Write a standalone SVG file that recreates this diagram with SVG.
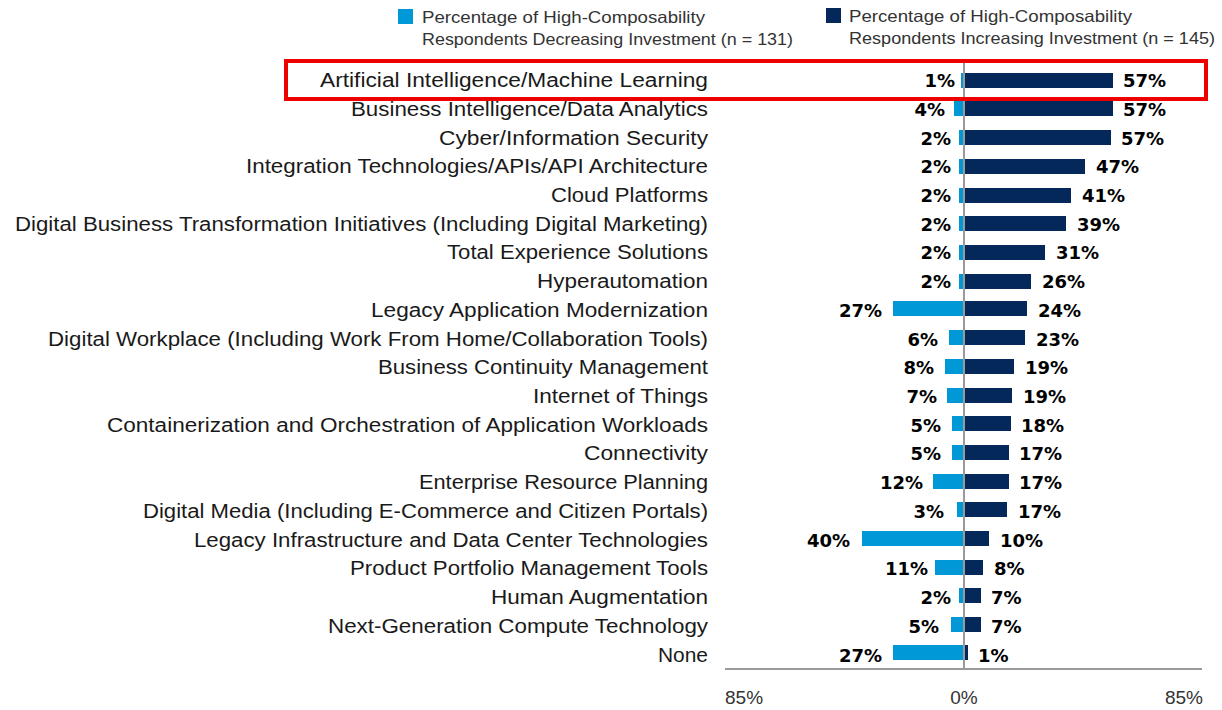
<svg xmlns="http://www.w3.org/2000/svg" width="1222" height="710" viewBox="0 0 1222 710">
<style>
.cat{font-family:"Liberation Sans",Arial,sans-serif;font-size:20px;fill:#1a1a1a;text-anchor:end}
.val{font-family:"DejaVu Sans","Liberation Sans",sans-serif;font-weight:bold;font-size:18px;fill:#000}
.l{text-anchor:end}
.dec{fill:#0098d6}
.inc{fill:#032859}
.leg{font-family:"Liberation Sans",Arial,sans-serif;font-size:16.5px;fill:#333}
.ax{font-family:"Liberation Sans",Arial,sans-serif;font-size:19px;fill:#333}
</style>
<rect width="1222" height="710" fill="#fff"/>
<g id="legend">
<rect x="398" y="9" width="15" height="15" class="dec"/>
<text class="leg" x="422" y="23" textLength="283" lengthAdjust="spacingAndGlyphs">Percentage of High-Composability</text>
<text class="leg" x="422" y="45" textLength="371" lengthAdjust="spacingAndGlyphs">Respondents Decreasing Investment (n = 131)</text>
<rect x="826" y="8" width="15" height="15" class="inc"/>
<text class="leg" x="849" y="22" textLength="283" lengthAdjust="spacingAndGlyphs">Percentage of High-Composability</text>
<text class="leg" x="849" y="44" textLength="366" lengthAdjust="spacingAndGlyphs">Respondents Increasing Investment (n = 145)</text>
</g>
<g id="axes">
<line x1="725" y1="669" x2="1202" y2="669" stroke="#9a9a9a" stroke-width="2"/>
<text class="ax" x="725" y="704">85%</text>
<text class="ax" x="964" y="704" text-anchor="middle">0%</text>
<text class="ax" x="1203" y="704" text-anchor="end">85%</text>
</g>
<g id="rows">
<g id="r1"><text class="cat" x="708" y="87" textLength="388" lengthAdjust="spacingAndGlyphs">Artificial Intelligence/Machine Learning</text><rect class="dec" x="961" y="73" width="3" height="15"/><rect class="inc" x="965" y="73" width="148" height="15"/><text class="val l" x="955" y="87">1%</text><text class="val" x="1123" y="87">57%</text></g>
<g id="r2"><text class="cat" x="708" y="116" textLength="357" lengthAdjust="spacingAndGlyphs">Business Intelligence/Data Analytics</text><rect class="dec" x="954" y="101" width="10" height="15"/><rect class="inc" x="965" y="101" width="148" height="15"/><text class="val l" x="945" y="116">4%</text><text class="val" x="1123" y="116">57%</text></g>
<g id="r3"><text class="cat" x="708" y="145" textLength="269" lengthAdjust="spacingAndGlyphs">Cyber/Information Security</text><rect class="dec" x="959" y="130" width="5" height="15"/><rect class="inc" x="965" y="130" width="146" height="15"/><text class="val l" x="951" y="145">2%</text><text class="val" x="1121" y="145">57%</text></g>
<g id="r4"><text class="cat" x="708" y="173" textLength="462" lengthAdjust="spacingAndGlyphs">Integration Technologies/APIs/API Architecture</text><rect class="dec" x="959" y="159" width="5" height="15"/><rect class="inc" x="965" y="159" width="120" height="15"/><text class="val l" x="951" y="173">2%</text><text class="val" x="1096" y="173">47%</text></g>
<g id="r5"><text class="cat" x="708" y="202" textLength="157" lengthAdjust="spacingAndGlyphs">Cloud Platforms</text><rect class="dec" x="959" y="188" width="5" height="15"/><rect class="inc" x="965" y="188" width="106" height="15"/><text class="val l" x="951" y="202">2%</text><text class="val" x="1082" y="202">41%</text></g>
<g id="r6"><text class="cat" x="708" y="231" textLength="693" lengthAdjust="spacingAndGlyphs">Digital Business Transformation Initiatives (Including Digital Marketing)</text><rect class="dec" x="959" y="216" width="5" height="15"/><rect class="inc" x="965" y="216" width="101" height="15"/><text class="val l" x="951" y="231">2%</text><text class="val" x="1077" y="231">39%</text></g>
<g id="r7"><text class="cat" x="708" y="259" textLength="261" lengthAdjust="spacingAndGlyphs">Total Experience Solutions</text><rect class="dec" x="959" y="245" width="5" height="15"/><rect class="inc" x="965" y="245" width="80" height="15"/><text class="val l" x="951" y="259">2%</text><text class="val" x="1056" y="259">31%</text></g>
<g id="r8"><text class="cat" x="708" y="288" textLength="171" lengthAdjust="spacingAndGlyphs">Hyperautomation</text><rect class="dec" x="959" y="274" width="5" height="15"/><rect class="inc" x="965" y="274" width="66" height="15"/><text class="val l" x="951" y="288">2%</text><text class="val" x="1042" y="288">26%</text></g>
<g id="r9"><text class="cat" x="708" y="317" textLength="337" lengthAdjust="spacingAndGlyphs">Legacy Application Modernization</text><rect class="dec" x="893" y="301" width="71" height="15"/><rect class="inc" x="965" y="301" width="62" height="15"/><text class="val l" x="882" y="317">27%</text><text class="val" x="1038" y="317">24%</text></g>
<g id="r10"><text class="cat" x="708" y="346" textLength="660" lengthAdjust="spacingAndGlyphs">Digital Workplace (Including Work From Home/Collaboration Tools)</text><rect class="dec" x="949" y="330" width="15" height="15"/><rect class="inc" x="965" y="330" width="60" height="15"/><text class="val l" x="938" y="346">6%</text><text class="val" x="1036" y="346">23%</text></g>
<g id="r11"><text class="cat" x="708" y="374" textLength="330" lengthAdjust="spacingAndGlyphs">Business Continuity Management</text><rect class="dec" x="945" y="359" width="19" height="15"/><rect class="inc" x="965" y="359" width="49" height="15"/><text class="val l" x="934" y="374">8%</text><text class="val" x="1025" y="374">19%</text></g>
<g id="r12"><text class="cat" x="708" y="403" textLength="175" lengthAdjust="spacingAndGlyphs">Internet of Things</text><rect class="dec" x="947" y="388" width="17" height="15"/><rect class="inc" x="965" y="388" width="47" height="15"/><text class="val l" x="937" y="403">7%</text><text class="val" x="1023" y="403">19%</text></g>
<g id="r13"><text class="cat" x="708" y="432" textLength="601" lengthAdjust="spacingAndGlyphs">Containerization and Orchestration of Application Workloads</text><rect class="dec" x="952" y="416" width="12" height="15"/><rect class="inc" x="965" y="416" width="46" height="15"/><text class="val l" x="941" y="432">5%</text><text class="val" x="1021" y="432">18%</text></g>
<g id="r14"><text class="cat" x="708" y="460" textLength="124" lengthAdjust="spacingAndGlyphs">Connectivity</text><rect class="dec" x="952" y="445" width="12" height="15"/><rect class="inc" x="965" y="445" width="44" height="15"/><text class="val l" x="941" y="460">5%</text><text class="val" x="1019" y="460">17%</text></g>
<g id="r15"><text class="cat" x="708" y="489" textLength="289" lengthAdjust="spacingAndGlyphs">Enterprise Resource Planning</text><rect class="dec" x="933" y="474" width="31" height="15"/><rect class="inc" x="965" y="474" width="44" height="15"/><text class="val l" x="923" y="489">12%</text><text class="val" x="1019" y="489">17%</text></g>
<g id="r16"><text class="cat" x="708" y="518" textLength="565" lengthAdjust="spacingAndGlyphs">Digital Media (Including E-Commerce and Citizen Portals)</text><rect class="dec" x="957" y="502" width="7" height="15"/><rect class="inc" x="965" y="502" width="42" height="15"/><text class="val l" x="944" y="518">3%</text><text class="val" x="1018" y="518">17%</text></g>
<g id="r17"><text class="cat" x="708" y="547" textLength="514" lengthAdjust="spacingAndGlyphs">Legacy Infrastructure and Data Center Technologies</text><rect class="dec" x="862" y="531" width="102" height="15"/><rect class="inc" x="965" y="531" width="24" height="15"/><text class="val l" x="850" y="547">40%</text><text class="val" x="1000" y="547">10%</text></g>
<g id="r18"><text class="cat" x="708" y="575" textLength="358" lengthAdjust="spacingAndGlyphs">Product Portfolio Management Tools</text><rect class="dec" x="935" y="560" width="29" height="15"/><rect class="inc" x="965" y="560" width="18" height="15"/><text class="val l" x="928" y="575">11%</text><text class="val" x="994" y="575">8%</text></g>
<g id="r19"><text class="cat" x="708" y="604" textLength="217" lengthAdjust="spacingAndGlyphs">Human Augmentation</text><rect class="dec" x="959" y="588" width="5" height="15"/><rect class="inc" x="965" y="588" width="16" height="15"/><text class="val l" x="951" y="604">2%</text><text class="val" x="991" y="604">7%</text></g>
<g id="r20"><text class="cat" x="708" y="633" textLength="380" lengthAdjust="spacingAndGlyphs">Next-Generation Compute Technology</text><rect class="dec" x="951" y="617" width="13" height="15"/><rect class="inc" x="965" y="617" width="16" height="15"/><text class="val l" x="939" y="633">5%</text><text class="val" x="991" y="633">7%</text></g>
<g id="r21"><text class="cat" x="708" y="662" textLength="50" lengthAdjust="spacingAndGlyphs">None</text><rect class="dec" x="893" y="645" width="71" height="15"/><rect class="inc" x="965" y="645" width="3" height="15"/><text class="val l" x="882" y="662">27%</text><text class="val" x="978" y="662">1%</text></g>
</g>
<line id="zero" x1="964" y1="63" x2="964" y2="668" stroke="#9a9a9a" stroke-width="2"/>
<rect id="highlight" x="286" y="61" width="920" height="38" fill="none" stroke="#ee0000" stroke-width="4"/>
</svg>
